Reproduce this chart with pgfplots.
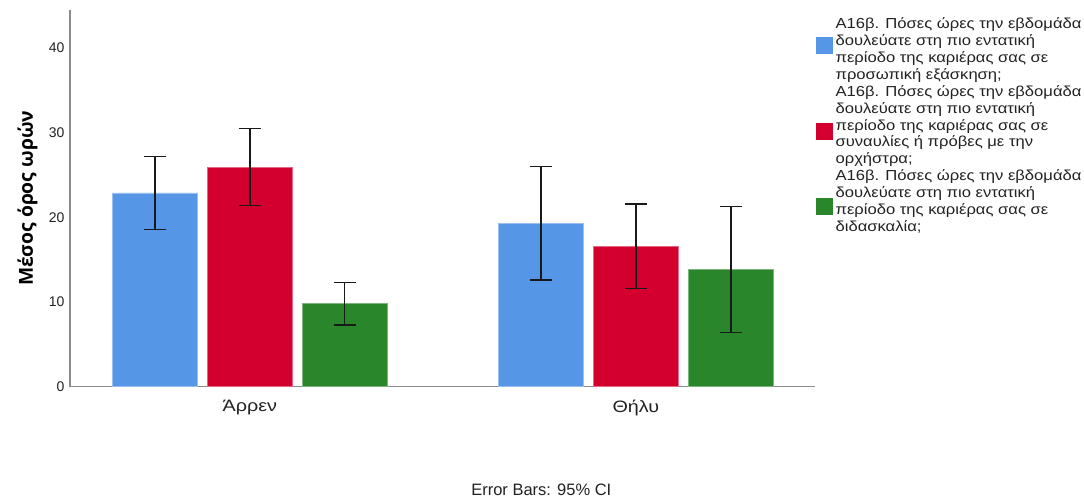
\documentclass[border=0pt]{standalone}
\usepackage{fontspec}
\setmainfont{Liberation Sans}
\newfontfamily\fxt[FakeStretch=1.2]{Liberation Sans}
\newfontfamily\flg[FakeStretch=1.145]{Liberation Sans}
\newfontfamily\fyl{Open Sans}
\usepackage{pgfplots}
\pgfplotsset{compat=1.18}
\definecolor{cblue}{HTML}{5596E6}
\definecolor{cred}{HTML}{D3002F}
\definecolor{cgreen}{HTML}{2A862A}
\definecolor{axgray}{HTML}{8C8C8C}
\definecolor{txt}{HTML}{222222}
\newcommand\ls{\rule[-4pt]{0pt}{16.8pt}}
\begin{document}
\begin{tikzpicture}
\begin{axis}[
  scale only axis, width=745pt, height=376.7pt,
  xmin=-0.466, xmax=1.464, ymin=0, ymax=44.5,
  axis x line*=bottom, axis y line*=left,
  axis line style={axgray, line width=1.3pt, -},
  xtick={0,1}, xticklabels={Άρρεν,Θήλυ},
  ytick={0,10,20,30,40},
  major tick length=0pt,
  tick style={draw=none},
  /pgf/number format/assume math mode=true,
  yticklabel style={font=\fontsize{14}{16}\selectfont, text=txt, xshift=-2pt},
  xticklabel style={font=\fxt\fontsize{16.5}{18}\selectfont, text=txt, yshift=-10pt},
  ylabel={Μέσος όρος ωρών},
  every axis y label/.style={at={(axis description cs:-0.0570,0.5)}, rotate=90, anchor=center,
     font=\fyl\fontsize{19.3}{22}\selectfont\bfseries, text=black},
  bar width=0.221,
  error bars/y dir=both, error bars/y explicit,
  error bars/error bar style={line width=1.3pt, black!90},
  error bars/error mark options={rotate=90, line width=1.3pt, mark size=11pt, black!90},
  legend style={at={(1.0013,0.9843)}, anchor=north west, draw=none, fill=none,
     inner sep=0pt, outer sep=0pt, column sep=3pt, row sep=3pt,
     font=\flg\fontsize{14.5}{16.8}\selectfont, text=txt,
     nodes={inner sep=0pt, align=left}},
  legend cell align=left,
]
\addplot[ybar, bar shift=0pt, fill=cblue, draw=cblue!60!white, line width=0.6pt,
  legend image code/.code={\fill[cblue] (0pt,-5.5pt) rectangle (16pt,10.5pt);}]
  coordinates {(-0.246,22.9) +- (0,4.3) (0.754,19.3) +- (0,6.7)};
\addlegendentry{\ls Α16β. Πόσες ώρες την εβδομάδα\\\ls δουλεύατε στη πιο εντατική\\\ls περίοδο της καριέρας σας σε\\\ls προσωπική εξάσκηση;}
\addplot[ybar, bar shift=0pt, fill=cred, draw=cred!60!white, line width=0.6pt,
  legend image code/.code={\fill[cred] (0pt,-14.9pt) rectangle (16pt,1.1pt);}]
  coordinates {(0,25.9) += (0,4.6) -= (0,4.5) (1,16.6) += (0,5.0) -= (0,5.0)};
\addlegendentry{\ls Α16β. Πόσες ώρες την εβδομάδα\\\ls δουλεύατε στη πιο εντατική\\\ls περίοδο της καριέρας σας σε\\\ls συναυλίες ή πρόβες με την\\\ls ορχήστρα;}
\addplot[ybar, bar shift=0pt, fill=cgreen, draw=cgreen!60!white, line width=0.6pt,
  legend image code/.code={\fill[cgreen] (0pt,-14.3pt) rectangle (16pt,1.7pt);}]
  coordinates {(0.246,9.8) +- (0,2.5) (1.246,13.85) +- (0,7.45)};
\addlegendentry{\ls Α16β. Πόσες ώρες την εβδομάδα\\\ls δουλεύατε στη πιο εντατική\\\ls περίοδο της καριέρας σας σε\\\ls διδασκαλία;}
\coordinate (O) at (rel axis cs:0,0);
\end{axis}
\path (O) ++(471.3pt,-102.8pt) node[font=\fontsize{16.5}{18}\selectfont, text=txt] {Error Bars: 95\% CI};
\path (O) ++(-70pt,-111.3pt) rectangle ++(1084pt,498pt);
\end{tikzpicture}
\end{document}
